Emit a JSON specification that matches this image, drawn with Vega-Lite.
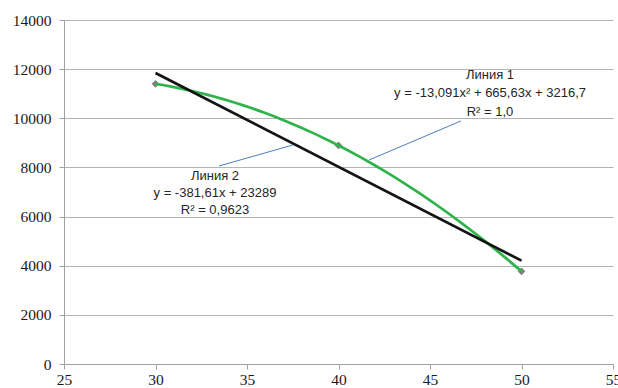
{
  "$schema": "https://vega.github.io/schema/vega-lite/v6.json",
  "autosize": {"type": "none"},
  "width": 549,
  "height": 344,
  "padding": {"left": 64, "top": 20, "right": 5, "bottom": 24},
  "background": "white",
  "config": {
    "view": {"stroke": null},
    "style": {
      "guide-label": {"font": "Liberation Serif", "fontSize": 15.5, "fill": "#1a1a1a"}
    },
    "axisLeft": {
      "labelFont": "Liberation Serif",
      "labelFontSize": 15.5,
      "labelColor": "#1a1a1a"
    },
    "axisBottom": {
      "labelFont": "Liberation Serif",
      "labelFontSize": 15.5,
      "labelColor": "#1a1a1a"
    },
    "axis": {
      "labelFont": "Liberation Serif",
      "labelFontSize": 15.5,
      "labelColor": "#1a1a1a",
      "domainColor": "#a0a0a0",
      "tickColor": "#a0a0a0",
      "gridColor": "#b4b4b4",
      "tickSize": 5
    }
  },
  "datasets": {
    "pts": [
      {"x": 30, "y": 11404},
      {"x": 40, "y": 8896},
      {"x": 50, "y": 3771}
    ],
    "ldr": [
      {"x": 46.69, "y": 9890, "x2": 41.67, "y2": 8303},
      {"x": 33.47, "y": 8059, "x2": 37.51, "y2": 8913}
    ],
    "ann": [
      {"x": 48.28, "y": 11762, "text": "Линия 1"},
      {"x": 48.28, "y": 11030, "text": "y = -13,091x² + 665,63x + 3216,7"},
      {"x": 48.28, "y": 10256, "text": "R² = 1,0"},
      {"x": 33.25, "y": 7652, "text": "Линия 2"},
      {"x": 33.25, "y": 6960, "text": "y = -381,61x + 23289"},
      {"x": 33.25, "y": 6268, "text": "R² = 0,9623"}
    ]
  },
  "layer": [
    {
      "data": {"name": "pts"},
      "mark": {"type": "point", "shape": "diamond", "filled": true, "size": 60, "color": "#808080", "opacity": 1},
      "encoding": {
        "x": {
          "field": "x",
          "type": "quantitative",
          "scale": {"domain": [25, 55], "nice": false, "zero": false},
          "axis": {
            "title": null,
            "values": [25, 30, 35, 40, 45, 50, 55],
            "grid": false,
            "labelPadding": 3,
            "labelFlush": false,
            "labelFont": "Liberation Serif",
            "labelFontSize": 15.5,
            "labelColor": "#1a1a1a",
            "domainColor": "#a0a0a0",
            "tickColor": "#a0a0a0",
            "tickSize": 5
          }
        },
        "y": {
          "field": "y",
          "type": "quantitative",
          "scale": {"domain": [0, 14000], "nice": false},
          "axis": {
            "title": null,
            "values": [0, 2000, 4000, 6000, 8000, 10000, 12000, 14000],
            "grid": true,
            "gridColor": "#b4b4b4",
            "labelPadding": 8,
            "format": "d",
            "labelFont": "Liberation Serif",
            "labelFontSize": 15.5,
            "labelColor": "#1a1a1a",
            "domainColor": "#a0a0a0",
            "tickColor": "#a0a0a0",
            "tickSize": 5
          }
        }
      }
    },
    {
      "data": {"name": "pts"},
      "transform": [{"regression": "y", "on": "x", "method": "poly", "order": 2}],
      "mark": {"type": "line", "color": "#2fb34b", "strokeWidth": 2.75},
      "encoding": {
        "x": {"field": "x", "type": "quantitative"},
        "y": {"field": "y", "type": "quantitative"}
      }
    },
    {
      "data": {"name": "pts"},
      "transform": [{"regression": "y", "on": "x", "method": "linear"}],
      "mark": {"type": "line", "color": "#141414", "strokeWidth": 2.75},
      "encoding": {
        "x": {"field": "x", "type": "quantitative"},
        "y": {"field": "y", "type": "quantitative"}
      }
    },
    {
      "data": {"name": "ldr"},
      "mark": {"type": "rule", "color": "#4a7fc1", "strokeWidth": 1},
      "encoding": {
        "x": {"field": "x", "type": "quantitative"},
        "y": {"field": "y", "type": "quantitative"},
        "x2": {"field": "x2"},
        "y2": {"field": "y2"}
      }
    },
    {
      "data": {"name": "ann"},
      "mark": {"type": "text", "font": "Liberation Sans", "fontSize": 13, "color": "#262626", "align": "center", "baseline": "middle"},
      "encoding": {
        "x": {"field": "x", "type": "quantitative"},
        "y": {"field": "y", "type": "quantitative"},
        "text": {"field": "text"}
      }
    }
  ]
}
